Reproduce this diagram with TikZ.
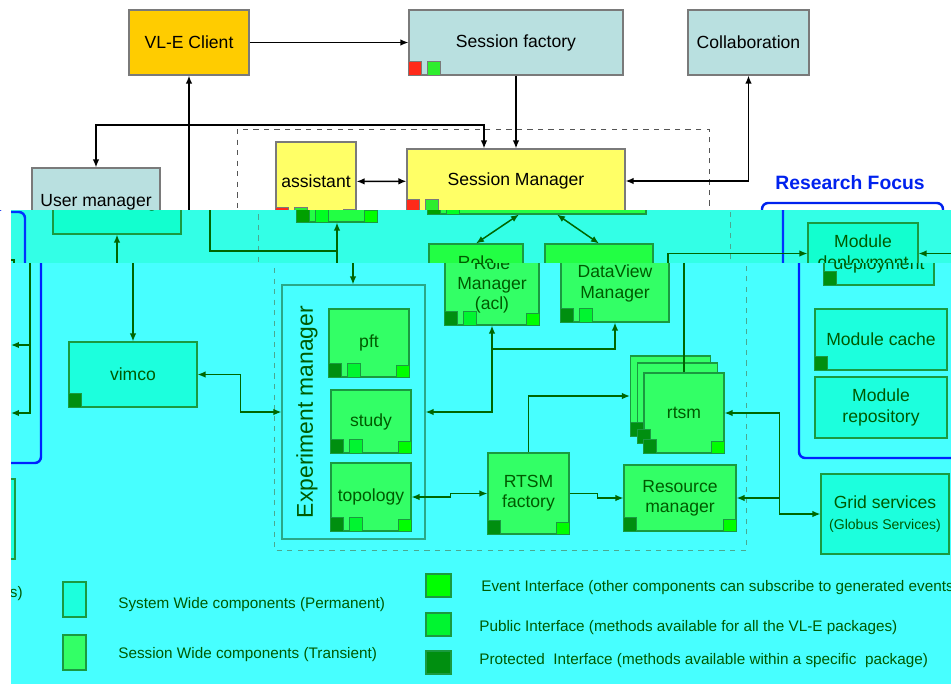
\documentclass[tikz,border=0pt]{standalone}
\usepackage{fontspec}
\setmainfont{Liberation Sans}
\usetikzlibrary{arrows.meta}

% colour sets of the three bands of the picture
\newcommand{\toppalette}{%
  \definecolor{dbg}{HTML}{FFFFFF}\definecolor{dsys}{HTML}{B9E0E0}%
  \definecolor{dsess}{HTML}{FFFF66}\definecolor{dclient}{HTML}{FFCC00}%
  \definecolor{dline}{HTML}{000000}\definecolor{dborder}{HTML}{7A7A7A}%
  \definecolor{dframe}{HTML}{7A7A7A}\definecolor{dtext}{HTML}{000000}%
  \definecolor{dprot}{HTML}{FF2A1A}\definecolor{dpub}{HTML}{2EEE2E}%
  \definecolor{devent}{HTML}{2EEE2E}\definecolor{ddash}{HTML}{555555}%
  \definecolor{dfocus}{HTML}{0022EE}}
\newcommand{\bandpalette}{%
  \definecolor{dbg}{HTML}{33FFE6}\definecolor{dsys}{HTML}{12FFCF}%
  \definecolor{dsess}{HTML}{22FF44}\definecolor{dclient}{HTML}{22FF44}%
  \definecolor{dline}{HTML}{006600}\definecolor{dborder}{HTML}{1A9A40}%
  \definecolor{dframe}{HTML}{2AA080}\definecolor{dtext}{HTML}{005A00}%
  \definecolor{dprot}{HTML}{00A000}\definecolor{dpub}{HTML}{00FF22}%
  \definecolor{devent}{HTML}{00FF00}\definecolor{ddash}{HTML}{4AA890}%
  \definecolor{dfocus}{HTML}{0033FF}}
\newcommand{\lowpalette}{%
  \definecolor{dbg}{HTML}{47FFFF}\definecolor{dsys}{HTML}{1CFFDD}%
  \definecolor{dsess}{HTML}{33FF66}\definecolor{dclient}{HTML}{33FF66}%
  \definecolor{dline}{HTML}{006600}\definecolor{dborder}{HTML}{1A9A40}%
  \definecolor{dframe}{HTML}{2AA888}\definecolor{dtext}{HTML}{005A00}%
  \definecolor{dprot}{HTML}{008F10}\definecolor{dpub}{HTML}{00F530}%
  \definecolor{devent}{HTML}{00FF00}\definecolor{ddash}{HTML}{4AA890}%
  \definecolor{dfocus}{HTML}{0022FF}}

\tikzset{
  boxsize/.style 2 args={minimum width=#1*0.02cm, minimum height=#2*0.02cm},
  compbox/.style={draw=dborder, line width=0.6pt, inner sep=0pt, align=center,
    text=dtext, font=\fontsize{10}{11.5}\selectfont},
  sysbox/.style={compbox, fill=dsys},
  sessbox/.style={compbox, fill=dsess},
  clientbox/.style={compbox, fill=dclient},
  conn/.style={draw=dline, line width=0.85pt},
  arr/.style={conn, -{Latex[length=1.6mm,width=1.3mm]}},
  arrboth/.style={conn, {Latex[length=1.6mm,width=1.3mm]}-{Latex[length=1.6mm,width=1.3mm]}},
  port/.style={draw=dborder, line width=0.4pt},
  focus/.style={draw=dfocus, line width=1.4pt, rounded corners=3.5pt},
  legtext/.style={anchor=west, inner sep=0pt, text=dtext, font=\fontsize{8.7}{10}\selectfont},
}

\newcommand{\protport}[1]{\filldraw[port, fill=dprot] (#1.south west) rectangle ++(13,-14);}
\newcommand{\pubport}[1]{\filldraw[port, fill=dpub] (#1.south west) ++(19,0) rectangle ++(13,-14);}
\newcommand{\evport}[1]{\filldraw[port, fill=devent] (#1.south east) rectangle ++(-13,-12);}

\newcommand{\vlediagram}{%
  % frames
  \draw[dashed, draw=ddash, line width=0.5pt] (237,129) rectangle (709,548);
  \draw[focus] (762,203) rectangle (943,456);
  \draw[focus] (-300,211) rectangle (4,461);
  \node[text=dfocus, font=\bfseries\fontsize{11}{13}\selectfont] (focuslabel) at (850,183) {Research Focus};
  % system wide components
  \node[clientbox, boxsize={120}{65}] (client) at (189,42.5) {VL-E Client};
  \node[sysbox, boxsize={214}{65}] (sfactory) at (516,42.5) {Session factory};
  \node[sysbox, boxsize={121}{65}] (collab) at (748.5,42.5) {Collaboration};
  \node[sysbox, boxsize={128}{65}, text depth=-1pt] (um) at (96,200.5) {User manager};
  \node[sysbox, boxsize={128}{65}] (vimco) at (96,372.5) {vimco};
  \node[sysbox, boxsize={110}{61}] (moddep) at (842,252.5) {Module\\deployment};
  \node[sysbox, boxsize={132}{61}] (modcache) at (844,337.5) {Module cache};
  \node[sysbox, boxsize={132}{61}] (modrepo) at (844,405.5) {Module\\repository};
  \node[sysbox, boxsize={128}{80}] (grid) at (848,512) {Grid services\\{\fontsize{8}{10}\selectfont (Globus Services)}};
  \node[sysbox, boxsize={128}{80}] (leftbox) at (-86,517) {};
  % session wide components
  \node[sessbox, boxsize={80}{79}] (assist) at (316,181.5) {assistant};
  \node[sessbox, boxsize={218}{64}] (sm) at (516,181) {Session Manager};
  \node[draw=dframe, line width=0.6pt, inner sep=0pt, boxsize={143}{254}] (exp) at (316.5,410) {};
  \node[rotate=90, text=dtext, font=\fontsize{13}{15}\selectfont] (explabel) at (270,410) {Experiment manager};
  \node[sessbox, boxsize={80}{68}] (pft) at (332,341) {pft};
  \node[sessbox, boxsize={80}{63}] (study) at (334,419.5) {study};
  \node[sessbox, boxsize={80}{68}] (topo) at (334,495) {topology};
  \node[sessbox, boxsize={94}{80}] (role) at (455,283) {Role\\Manager\\(acl)};
  \node[sessbox, boxsize={108}{77}] (dv) at (578,281.5) {DataView\\Manager};
  \node[sessbox, boxsize={80}{80}] (rtsmb) at (633.5,394) {};
  \node[sessbox, boxsize={80}{80}] (rtsmm) at (640.5,401) {};
  \node[sessbox, boxsize={80}{80}] (rtsm) at (647,411) {rtsm};
  \node[sessbox, boxsize={81}{81}] (rfac) at (491.5,491.5) {RTSM\\factory};
  \node[sessbox, boxsize={112}{66}] (resm) at (643,496) {Resource\\manager};
  % interfaces
  \protport{sfactory}\pubport{sfactory}
  \protport{sm}\pubport{sm}
  \protport{assist}\pubport{assist}\evport{assist}
  \protport{vimco}\protport{moddep}\protport{modcache}
  \protport{pft}\pubport{pft}\evport{pft}
  \protport{study}\pubport{study}\evport{study}
  \protport{topo}\pubport{topo}\evport{topo}
  \protport{role}\pubport{role}\evport{role}
  \protport{dv}\pubport{dv}
  \protport{rtsmb}\protport{rtsmm}\protport{rtsm}\evport{rtsm}
  \protport{rfac}\evport{rfac}
  \protport{resm}\evport{resm}
  % connectors
  \coordinate (umjoin) at (96,125);
  \coordinate (clientjoin) at (316,250);
  \coordinate (rolejoin) at (455,347);
  \coordinate (gridjoin) at (742,496);
  \coordinate (modfeed) at (960,252.5);
  \coordinate (leftfeed) at (-40,259);
  \coordinate (leftout) at (-26,343);
  \coordinate (leftmid) at (-7,343);
  \draw[arr] (client) -- (sfactory);
  \draw[arr] (sfactory) -- (sm);
  \draw[arrboth] (sm) -| (collab);
  \draw[arrboth] (assist) -- (sm);
  \draw[arrboth] (um.north) -- (umjoin) -| ([xshift=-0.64cm]sm.north);
  \draw[arrboth] (assist.south) -- (assist.south |- exp.north);
  \draw[arr] (clientjoin) -| (client);
  \draw[arrboth] (um) -- (vimco);
  \draw[arrboth] (vimco.east) -- ++(43,0) |- (exp.west);
  \draw[arrboth] ([xshift=-0.36cm]sm.south) -- (role.north);
  \draw[arrboth] ([xshift=0.4cm]sm.south) -- (dv.north);
  \draw[arrboth] (role.south) |- (exp.east);
  \draw[arr] (rolejoin) -| (dv.south);
  \draw[arr] (rtsm.north) |- (moddep.west);
  \draw[arr] (modfeed) -- (moddep.east);
  \draw[arr] (rfac.north) |- (rtsmb.west);
  \draw[arrboth] (topo.east) -- ++(39,0) |- (rfac.west);
  \draw[arr] (rfac.east) -- ++(28,0) |- (resm.west);
  \draw[arrboth] (rtsm.east) -- ++(55,0) |- (grid.west);
  \draw[arr] (gridjoin) -- (resm.east);
  \draw[arr] (leftfeed) -| (-7,411) -- (-26,411);
  \draw[arr] (leftmid) -- (leftout);
  % legend
  \node[legtext, anchor=east] (legcut) at (-14,592) {s)};
  \node[sysbox, boxsize={23}{35}] (legsys) at (37.5,597.5) {};
  \node[legtext] (legsystext) at (81,603) {System Wide components (Permanent)};
  \node[sessbox, boxsize={23}{35}] (legsess) at (37.5,650.5) {};
  \node[legtext] (legsesstext) at (81,653) {Session Wide components (Transient)};
  \node[compbox, fill=devent, boxsize={25}{23}] (legev) at (401.5,583.5) {};
  \node[legtext] (legevtext) at (444,586) {Event Interface (other components can subscribe to generated events)};
  \node[compbox, fill=dpub, boxsize={25}{23}] (legpub) at (401.5,622.5) {};
  \node[legtext] (legpubtext) at (442,626) {Public Interface (methods available for all the VL-E packages)};
  \node[compbox, fill=dprot, boxsize={25}{23}] (legprot) at (401.5,660.5) {};
  \node[legtext] (legprottext) at (442,659) {Protected\ \ Interface (methods available within a specific\ \ package)};
}

\begin{document}
\begin{tikzpicture}[x={(0.02cm,0)}, y={(0,-0.02cm)}]
  \useasboundingbox (0,0) rectangle (951,684);
  \fill[white] (0,0) rectangle (951,684);
  % top band
  \begin{scope}
    \toppalette
    \clip (0,0) rectangle (951,210);
    \vlediagram
  \end{scope}
  % middle band
  \begin{scope}
    \bandpalette
    \clip (11,210) rectangle (951,263);
    \fill[dbg] (11,210) rectangle (951,263);
    \begin{scope}[shift={(21,1)}]
      \vlediagram
    \end{scope}
  \end{scope}
  % lower band
  \begin{scope}
    \lowpalette
    \clip (11,263) rectangle (951,684);
    \fill[dbg] (11,263) rectangle (951,684);
    \begin{scope}[shift={(37,2)}]
      \vlediagram
    \end{scope}
  \end{scope}
\end{tikzpicture}
\end{document}
